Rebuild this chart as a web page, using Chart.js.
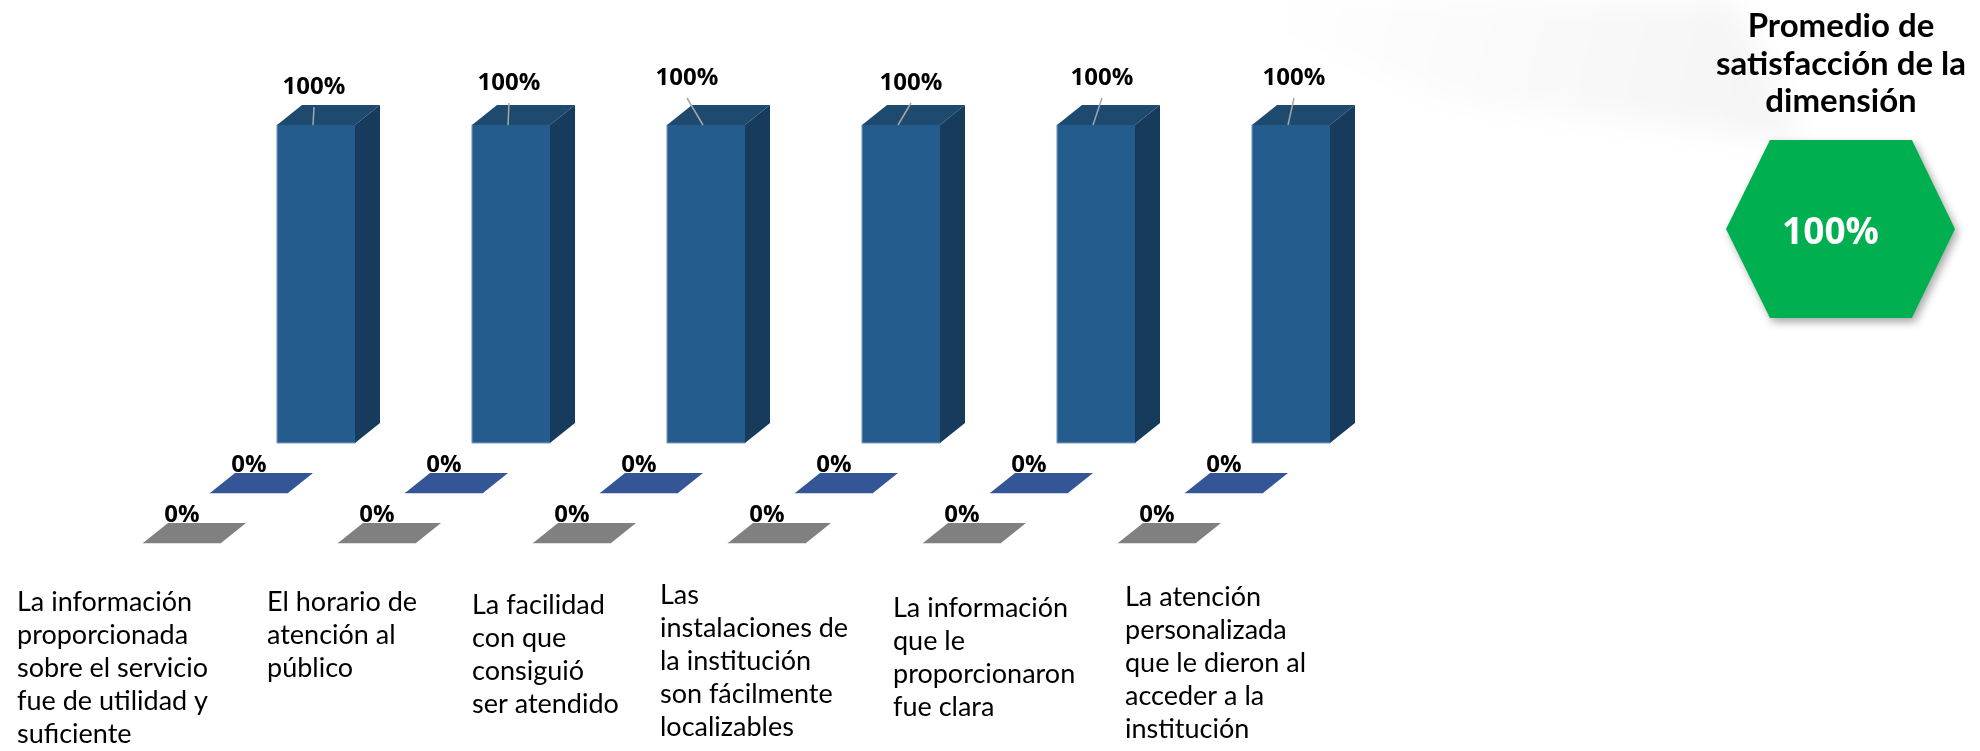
<!DOCTYPE html>
<html lang="es">
<head>
<meta charset="utf-8">
<title>Promedio de satisfacción de la dimensión</title>
<script src="https://cdn.jsdelivr.net/npm/chart.js@4.4.1/dist/chart.umd.min.js"></script>
<style>
  html, body { margin: 0; padding: 0; background: #fff; }
  #wrap { position: relative; width: 1980px; height: 751px; overflow: hidden; background: #fff; }
  #fondo { position: absolute; left: 0; top: 0; width: 1980px; height: 751px; filter: blur(14px); }
  #fondo div {
    width: 100%; height: 100%;
    background: linear-gradient(105deg, rgba(0,0,0,0) 58%, rgba(0,0,0,0.045) 84%);
    clip-path: polygon(1100px -40px, 1715px -40px, 1800px 140px, 1450px 100px);
  }
  #grafico { position: absolute; left: 0; top: 0; }
  #titulo {
    position: absolute; left: 1691px; top: 6px; width: 300px;
    text-align: center; font: bold 33px Lato, sans-serif; line-height: 37.5px; color: #000;
  }
  #hexSombra {
    position: absolute; left: 1726px; top: 140px; width: 229px; height: 178px;
    filter: drop-shadow(3px 4px 4px rgba(0,0,0,0.35));
  }
  #hex {
    width: 100%; height: 100%; background: #00b050;
    clip-path: polygon(19.2% 0, 81.2% 0, 100% 50%, 81.2% 100%, 19.2% 100%, 0 50%);
    display: flex; align-items: center; justify-content: center;
    color: #fff; font: bold 37px 'Open Sans', sans-serif; padding-right: 20px; box-sizing: border-box;
  }
</style>
</head>
<body>
<div id="wrap">
  <div id="fondo"><div></div></div>
  <canvas id="grafico" width="1980" height="751"></canvas>
  <div id="titulo">Promedio de<br>satisfacción de la<br>dimensión</div>
  <div id="hexSombra"><div id="hex"></div></div>
</div>
<script>
const categorias = [
  ['La información', 'proporcionada', 'sobre el servicio', 'fue de utilidad y', 'suficiente'],
  ['El horario de', 'atención al', 'público'],
  ['La facilidad', 'con que', 'consiguió', 'ser atendido'],
  ['Las', 'instalaciones de', 'la institución', 'son fácilmente', 'localizables'],
  ['La información', 'que le', 'proporcionaron', 'fue clara'],
  ['La atención', 'personalizada', 'que le dieron al', 'acceder a la', 'institución']
];
const satisfecho   = [100, 100, 100, 100, 100, 100];
const regular      = [0, 0, 0, 0, 0, 0];
const insatisfecho = [0, 0, 0, 0, 0, 0];

// profundidad de cada caja y desplazamiento entre filas de series
const PROF = { dx: 25, dy: 20 };
const PASO = { dx: 67, dy: -50 };

// esquina superior izquierda de cada rótulo de categoría (x, centro de la 1a línea)
const posRotulos = [[17, 602], [267, 602], [472, 605], [660, 595], [893, 608], [1125, 597]];
// ajuste manual de las etiquetas 100% (con línea guía)
const ajusteEtiq = [[-2, 4], [-2, 0], [-19, -5], [10, 0], [6, -5], [3, -5]];

const series = [
  { label: 'Insatisfecho', data: insatisfecho, backgroundColor: '#808080', cara: '#808080', lado: '#666666', sube: 28 },
  { label: 'Regular', data: regular, backgroundColor: '#345696', cara: '#345696', lado: '#28467a', sube: 28 },
  { label: 'Satisfecho', data: satisfecho, backgroundColor: '#245c8d', cara: '#1f4a70', lado: '#173b5d', sube: 42, guia: true }
];

const cubos = {
  id: 'cubos',
  beforeDatasetDraw(chart, args) {
    const ctx = chart.ctx;
    ctx.save();
    ctx.translate(PASO.dx * args.index, PASO.dy * args.index);
  },
  afterDatasetDraw(chart, args) {
    const ctx = chart.ctx;
    const ds = chart.data.datasets[args.index];
    args.meta.data.forEach((el, i) => {
      const { x, y, base, width } = el.getProps(['x', 'y', 'base', 'width'], true);
      const l = x - width / 2, r = x + width / 2;
      // cara superior
      ctx.beginPath();
      ctx.moveTo(l, y); ctx.lineTo(r, y);
      ctx.lineTo(r + PROF.dx, y - PROF.dy); ctx.lineTo(l + PROF.dx, y - PROF.dy);
      ctx.closePath();
      ctx.fillStyle = ds.cara; ctx.fill();
      // cara lateral
      if (base - y > 0.5) {
        ctx.beginPath();
        ctx.moveTo(r, y); ctx.lineTo(r + PROF.dx, y - PROF.dy);
        ctx.lineTo(r + PROF.dx, base - PROF.dy); ctx.lineTo(r, base);
        ctx.closePath();
        ctx.fillStyle = ds.lado; ctx.fill();
        ctx.strokeStyle = 'rgba(170,190,215,0.7)'; ctx.lineWidth = 1;
        ctx.beginPath(); ctx.moveTo(l, y); ctx.lineTo(l, base); ctx.lineTo(r, base); ctx.stroke();
      }
      // etiqueta de valor
      let lx = x, ly = y - ds.sube;
      if (ds.guia) {
        lx += ajusteEtiq[i][0]; ly += ajusteEtiq[i][1];
        ctx.strokeStyle = '#a6a6a6'; ctx.lineWidth = 1.5;
        ctx.beginPath(); ctx.moveTo(lx, ly + 20); ctx.lineTo(x - 3, y); ctx.stroke();
      }
      ctx.fillStyle = '#000';
      ctx.font = "bold 24px 'Open Sans', sans-serif";
      ctx.textAlign = 'center'; ctx.textBaseline = 'middle';
      ctx.fillText(ds.data[i] + '%', lx, ly);
    });
    ctx.restore();
  },
  afterDraw(chart) {
    const ctx = chart.ctx;
    ctx.save();
    ctx.fillStyle = '#000';
    ctx.font = "27px Lato, sans-serif";
    ctx.textAlign = 'left'; ctx.textBaseline = 'middle';
    chart.data.labels.forEach((lineas, i) => {
      const [px, py] = posRotulos[i];
      lineas.forEach((t, j) => ctx.fillText(t, px, py + j * 33));
    });
    ctx.restore();
  }
};

new Chart(document.getElementById('grafico'), {
  type: 'bar',
  data: {
    labels: categorias,
    datasets: series.map(s => Object.assign({ borderWidth: 0, barThickness: 78, clip: false }, s))
  },
  options: {
    responsive: false,
    animation: false,
    layout: { padding: { left: 84.5, right: 725.5, top: 225, bottom: 208 } },
    plugins: { legend: { display: false }, tooltip: { enabled: false } },
    scales: {
      x: { display: false },
      y: { display: false, min: 0, max: 100 }
    },
    datasets: { bar: { grouped: false } }
  },
  plugins: [cubos]
});

// promedio de la serie satisfecho
const promedio = satisfecho.reduce((a, v) => a + v, 0) / satisfecho.length;
document.getElementById('hex').textContent = Math.round(promedio) + '%';
</script>
</body>
</html>
